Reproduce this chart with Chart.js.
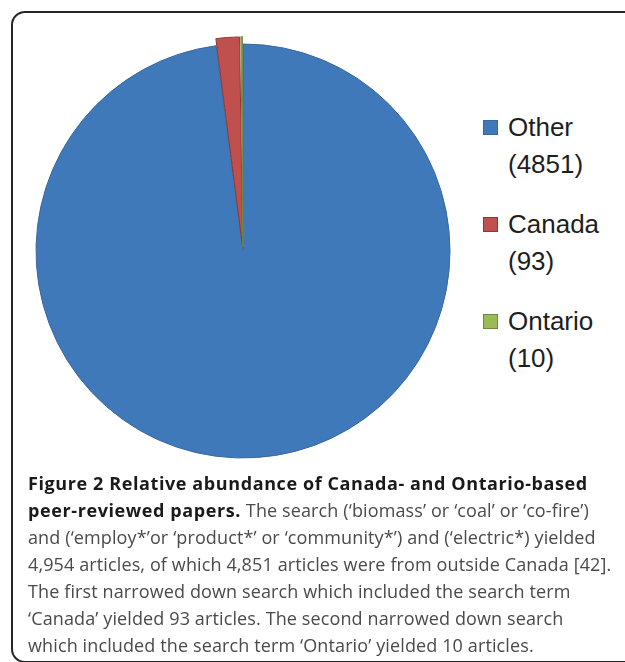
<!DOCTYPE html>
<html>
<head>
<meta charset="utf-8">
<script src="https://cdn.jsdelivr.net/npm/chart.js@4.4.1/dist/chart.umd.min.js"></script>
<style>
  html, body { margin: 0; padding: 0; background: #fff; }
  body { width: 625px; height: 662px; position: relative; overflow: hidden; }
  #frame {
    position: absolute; left: 11px; top: 11px; width: 700px; height: 648px;
    border: 2px solid #262626; border-radius: 14px;
  }
  #pieWrap { position: absolute; left: 13px; top: 20px; width: 460px; height: 462px; }
  #legend { position: absolute; left: 483px; top: 109px; font-family: "Liberation Sans", Arial, sans-serif; font-size: 26px; color: #1e1e1e; }
  .item { position: relative; padding-left: 25px; line-height: 37px; margin-bottom: 23px; }
  .box { position: absolute; left: 0; top: 11px; width: 13px; height: 13px; border: 1px solid; }
  #caption {
    position: absolute; left: 28px; top: 470px; font-family: "Open Sans", Lato, sans-serif;
    font-size: 18px; line-height: 27px; color: #4a4a4a; white-space: nowrap; letter-spacing: 0.12px;
  }
  #caption b { color: #1a1a1a; font-weight: 700; letter-spacing: 0.6px; }
</style>
</head>
<body>
<div id="frame"></div>
<div id="pieWrap"><canvas id="pieChart" width="460" height="462"></canvas></div>
<div id="legend"></div>
<div id="caption">
  <b>Figure 2 Relative abundance of Canada- and Ontario-based</b><br>
  <b>peer-reviewed papers.</b> The search (‘biomass’ or ‘coal’ or ‘co-fire’)<br>
  and (‘employ*’or ‘product*’ or ‘community*’) and (‘electric*) yielded<br>
  4,954 articles, of which 4,851 articles were from outside Canada [42].<br>
  The first narrowed down search which included the search term<br>
  ‘Canada’ yielded 93 articles. The second narrowed down search<br>
  which included the search term ‘Ontario’ yielded 10 articles.
</div>
<script>
// dados do gráfico
const labels = ['Other', 'Canada', 'Ontario'];
const counts = [4851, 93, 10];
const fillColors = ['#4079ba', '#c0504d', '#9bbb59'];
const edgeColors = ['#3a689c', '#8c3836', '#71893f'];
const explode = [0, 15, 15];

// legenda em HTML (duas linhas por item)
const legend = document.getElementById('legend');
labels.forEach((name, i) => {
  const div = document.createElement('div');
  div.className = 'item';
  div.innerHTML = '<span class="box" style="background:' + fillColors[i] + ';border-color:' + edgeColors[i] + '"></span>' +
    name + '<br>(' + counts[i] + ')';
  legend.appendChild(div);
});

const ctx = document.getElementById('pieChart').getContext('2d');
new Chart(ctx, {
  type: 'pie',
  data: {
    labels: labels,
    datasets: [{
      data: counts,
      backgroundColor: fillColors,
      borderColor: edgeColors,
      borderWidth: 1,
      offset: explode
    }]
  },
  options: {
    responsive: false,
    animation: false,
    radius: 207,
    layout: { padding: 0 },
    plugins: { legend: { display: false }, tooltip: { enabled: false } }
  }
});
</script>
</body>
</html>
